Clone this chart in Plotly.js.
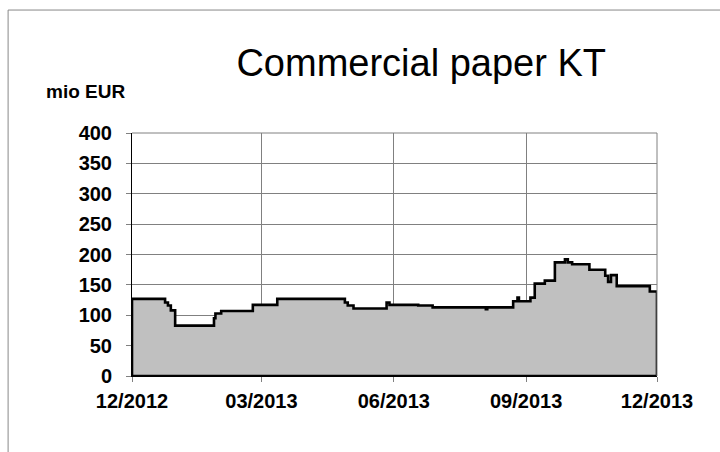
<!DOCTYPE html>
<html>
<head>
<meta charset="utf-8">
<script src="https://cdn.plot.ly/plotly-3.0.1.min.js"></script>
<style>html,body{margin:0;padding:0;background:#fff;}#chart{width:720px;height:452px;}</style>
</head>
<body>
<div id="chart"></div>
<script>
// Commercial paper KT, mio EUR (step series)
const dates = [
  "2012-12-01","2012-12-24","2012-12-26","2012-12-28","2012-12-31",
  "2013-01-27","2013-01-28","2013-02-01","2013-02-23","2013-03-12",
  "2013-04-28","2013-04-30","2013-05-04","2013-05-27","2013-05-29",
  "2013-06-18","2013-06-28","2013-08-04","2013-08-05","2013-08-23",
  "2013-08-26","2013-08-27","2013-09-04","2013-09-07","2013-09-14",
  "2013-09-21","2013-09-28","2013-09-30","2013-10-03","2013-10-15",
  "2013-10-26","2013-10-28","2013-10-30","2013-11-03","2013-11-26",
  "2013-12-01"
];
const values = [
  127,121,116,108,83,
  95,103,107,117,127,
  121,116,111,121,117,
  116,113,110,113,123,
  129,123,129,152,157,
  187,192,187,184,175,
  165,155,166,148,139,
  139
];
const tickDates = ["2012-12-01","2013-03-01","2013-06-01","2013-09-01","2013-12-01"];
const tickLabels = ["12/2012","03/2013","06/2013","09/2013","12/2013"];
const yTicks = [0,50,100,150,200,250,300,350,400];

const startDate = dates[0];
const endDate = dates[dates.length-1];
const xs = [startDate].concat(dates, [endDate, startDate]);
const ys = [0].concat(values, [0, 0]);

const font = "Liberation Sans, Arial, sans-serif";

const trace = {
  x: xs, y: ys, type: "scatter", mode: "lines",
  line: {shape: "hv", color: "#000", width: 2.6},
  fill: "toself", fillcolor: "#c0c0c0",
  hoverinfo: "skip"
};

const layout = {
  width: 720, height: 452,
  margin: {l: 132, r: 63, t: 133, b: 76},
  paper_bgcolor: "#fff", plot_bgcolor: "#fff",
  showlegend: false,
  font: {family: font, color: "#000"},
  title: {
    text: "Commercial paper KT",
    font: {family: font, size: 38, color: "#000"},
    xref: "container", x: 0.585, xanchor: "center",
    yref: "container", y: 0.862, yanchor: "middle"
  },
  xaxis: {
    type: "date",
    range: [startDate, endDate],
    tickvals: tickDates, ticktext: tickLabels,
    showgrid: true, gridcolor: "#808080", gridwidth: 1,
    showline: true, linecolor: "#000", linewidth: 1,
    ticks: "outside", ticklen: 5, tickcolor: "#808080",
    ticklabelstandoff: 2,
    tickfont: {family: font, size: 20, weight: "bold", color: "#000"},
    zeroline: false, fixedrange: true
  },
  yaxis: {
    range: [0, 400],
    tickvals: yTicks,
    showgrid: true, gridcolor: "#808080", gridwidth: 1,
    showline: true, linecolor: "#000", linewidth: 1,
    ticks: "outside", ticklen: 5, tickcolor: "#808080",
    ticklabelstandoff: 10,
    tickfont: {family: font, size: 20, weight: "bold", color: "#000"},
    zeroline: false, fixedrange: true
  },
  annotations: [{
    text: "mio EUR", xref: "paper", yref: "paper",
    x: -0.1676, y: 1.169, xanchor: "left", yanchor: "middle",
    showarrow: false,
    font: {family: font, size: 19, weight: "bold", color: "#000"}
  }],
  shapes: [
    {type: "line", xref: "paper", yref: "paper", x0: -0.236, x1: 1.2, y0: 1.506, y1: 1.506, line: {color: "#888", width: 1}},
    {type: "line", xref: "paper", yref: "paper", x0: -0.236, x1: -0.236, y0: 1.506, y1: -0.32, line: {color: "#888", width: 1}},
    {type: "line", xref: "paper", yref: "paper", x0: 1, x1: 1, y0: 0, y1: 1, line: {color: "#808080", width: 1}},
    {type: "line", xref: "paper", yref: "paper", x0: 0, x1: 1, y0: 1, y1: 1, line: {color: "#808080", width: 1}}
  ]
};

Plotly.newPlot("chart", [trace], layout, {displayModeBar: false, staticPlot: true});
</script>
</body>
</html>
